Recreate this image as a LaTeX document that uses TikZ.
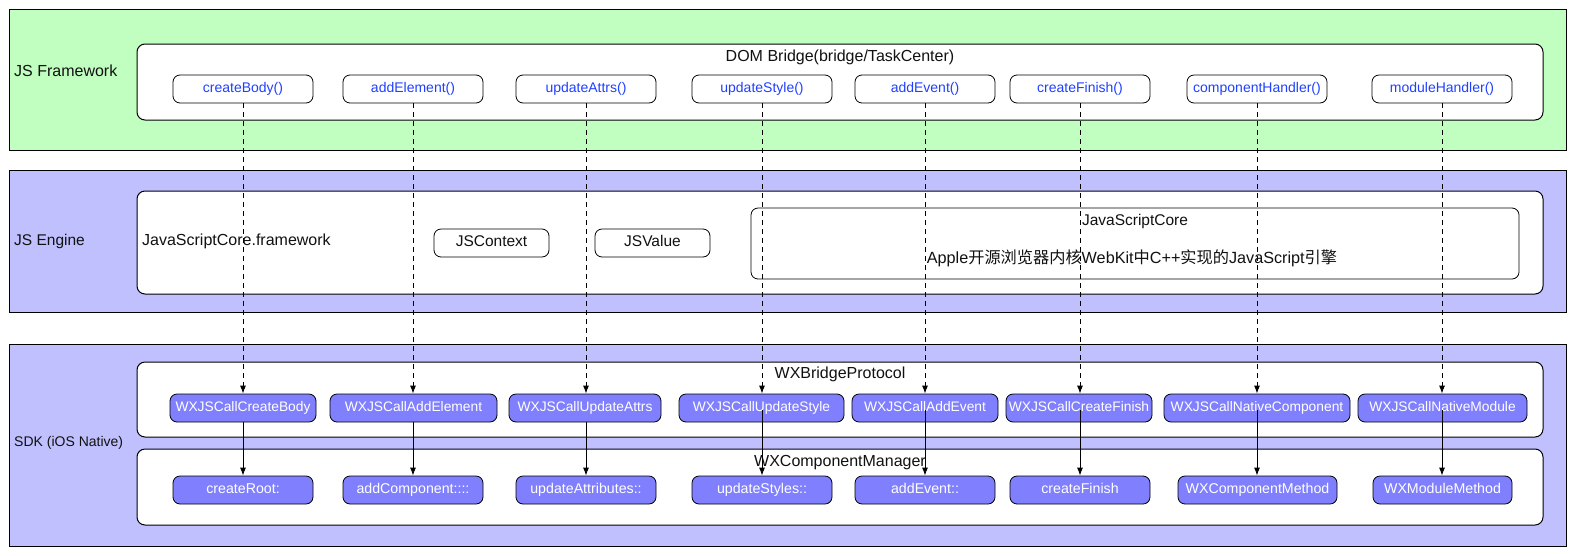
\documentclass[tikz,border=0pt]{standalone}
\usepackage{fontspec}
\setmainfont{Liberation Sans}
\newfontfamily\cjk{Noto Sans CJK SC}
\usetikzlibrary{arrows.meta}
\definecolor{lgreen}{HTML}{C0FFC0}
\definecolor{lblue}{HTML}{C0C0FF}
\definecolor{btnfill}{HTML}{8080FF}
\definecolor{btntext}{HTML}{2040FF}
\definecolor{txt}{HTML}{111111}
\begin{document}
\begin{tikzpicture}[x=1pt,y=-1pt,
  layerbox/.style={draw=black,line width=1pt,inner sep=0pt},
  innerbox/.style={draw=black,fill=white,rounded corners=8pt,line width=1pt,inner sep=0pt},
  tx/.style={text height=0.72em,text depth=0.06em},
  topbtn/.style={draw=black,fill=white,rounded corners=7pt,line width=0.8pt,minimum height=28pt,minimum width=140pt,inner sep=0pt,tx,text=btntext,font=\fontsize{14}{16}\selectfont},
  midbtn/.style={draw=black,fill=btnfill,rounded corners=7pt,line width=0.8pt,minimum height=28pt,inner sep=0pt,tx,text=white,font=\fontsize{13.8}{16}\selectfont},
  botbtn/.style={midbtn,font=\fontsize{14.2}{16}\selectfont},
  plainbtn/.style={draw=black,fill=white,rounded corners=7pt,line width=0.8pt,minimum height=28pt,inner sep=0pt,tx,text=txt,font=\fontsize{15.5}{18}\selectfont},
  lbl/.style={inner sep=0pt,tx,text=txt,font=\fontsize{15.5}{18}\selectfont},
  dasharr/.style={draw=black,line width=0.9pt,dash pattern=on 5pt off 4pt,-{Latex[length=8pt,width=6pt]}},
  solarr/.style={draw=black,line width=0.9pt,-{Latex[length=8pt,width=6pt]}}
]
\useasboundingbox (0,0) rectangle (1574,555);

% layers
\node[layerbox,fill=lgreen,minimum width=1557pt,minimum height=141pt] (L1) at (787.5,79.5) {};
\node[layerbox,fill=lblue,minimum width=1557pt,minimum height=142pt] (L2) at (787.5,241) {};
\node[layerbox,fill=lblue,minimum width=1557pt,minimum height=202pt] (L3) at (787.5,445) {};

\node[lbl,anchor=west,font=\fontsize{16}{18}\selectfont] (L1t) at (14,73) {JS Framework};
\node[lbl,anchor=west] (L2t) at (14,242) {JS Engine};
\node[lbl,anchor=west,font=\fontsize{14}{17}\selectfont] (L3t) at (14,443) {SDK (iOS Native)};

% inner boxes
\node[innerbox,minimum width=1406pt,minimum height=76pt] (I1) at (840,82) {};
\node[innerbox,minimum width=1406pt,minimum height=103pt] (I2) at (840,242.5) {};
\node[innerbox,minimum width=1406pt,minimum height=75pt] (I3) at (840,399.5) {};
\node[innerbox,minimum width=1406pt,minimum height=76pt] (I4) at (840,487) {};

\node[lbl,font=\fontsize{16}{18}\selectfont] (I1t) at (840,58) {DOM Bridge(bridge/TaskCenter)};
\node[lbl,font=\fontsize{16}{18}\selectfont] (I3t) at (840,375) {WXBridgeProtocol};
\node[lbl,font=\fontsize{16}{18}\selectfont] (I4t) at (840,463) {WXComponentManager};

% JS Engine content
\node[lbl,anchor=west,font=\fontsize{16}{18}\selectfont] (jscf) at (142,242) {JavaScriptCore.framework};
\node[plainbtn,minimum width=115pt] (jsctx) at (491.5,243) {JSContext};
\node[plainbtn,minimum width=115pt] (jsval) at (652.5,243) {JSValue};
\node[innerbox,rounded corners=7pt,line width=0.8pt,minimum width=768pt,minimum height=71pt] (jsc) at (1135,243.5) {};
\node[lbl] (jsct) at (1135,222) {JavaScriptCore};
\node[lbl,font=\fontsize{16.2}{19}\selectfont] (jscd) at (1132,260) {Apple{\cjk 开源浏览器内核}WebKit{\cjk 中}C++{\cjk 实现的}JavaScript{\cjk 引擎}};

% top buttons
\node[topbtn] (t1) at (243,89) {createBody()};
\node[topbtn] (t2) at (413,89) {addElement()};
\node[topbtn] (t3) at (586,89) {updateAttrs()};
\node[topbtn] (t4) at (762,89) {updateStyle()};
\node[topbtn] (t5) at (925,89) {addEvent()};
\node[topbtn] (t6) at (1080,89) {createFinish()};
\node[topbtn] (t7) at (1257,89) {componentHandler()};
\node[topbtn] (t8) at (1442,89) {moduleHandler()};

% middle buttons
\node[midbtn,minimum width=146pt] (m1) at (243,408) {WXJSCallCreateBody};
\node[midbtn,minimum width=167pt] (m2) at (413.5,408) {WXJSCallAddElement};
\node[midbtn,minimum width=152pt] (m3) at (585,408) {WXJSCallUpdateAttrs};
\node[midbtn,minimum width=165pt] (m4) at (761.5,408) {WXJSCallUpdateStyle};
\node[midbtn,minimum width=146pt] (m5) at (925,408) {WXJSCallAddEvent};
\node[midbtn,minimum width=146pt] (m6) at (1079,408) {WXJSCallCreateFinish};
\node[midbtn,minimum width=186pt] (m7) at (1257,408) {WXJSCallNativeComponent};
\node[midbtn,minimum width=169pt] (m8) at (1442.5,408) {WXJSCallNativeModule};

% bottom buttons
\node[botbtn,minimum width=140pt] (b1) at (243,490) {createRoot:};
\node[botbtn,minimum width=140pt] (b2) at (413,490) {addComponent::::};
\node[botbtn,minimum width=140pt] (b3) at (586,490) {updateAttributes::};
\node[botbtn,minimum width=140pt] (b4) at (762,490) {updateStyles::};
\node[botbtn,minimum width=140pt] (b5) at (925,490) {addEvent::};
\node[botbtn,minimum width=140pt] (b6) at (1080,490) {createFinish};
\node[botbtn,minimum width=159pt] (b7) at (1257.5,490) {WXComponentMethod};
\node[botbtn,minimum width=139pt] (b8) at (1442.5,490) {WXModuleMethod};

% dashed connectors
\foreach \i in {1,...,8}{
  \draw[dasharr] (t\i.south) -- (t\i.south |- m\i.north);
}
% solid connectors
\foreach \i in {1,2,3}{
  \draw[solarr] (t\i.south |- m\i.south) -- (t\i.south |- b\i.north);
}
\foreach \i in {4,...,8}{
  \draw[solarr] ([yshift=-2pt]t\i.south |- m\i.center) -- (t\i.south |- b\i.north);
}
\end{tikzpicture}
\end{document}
